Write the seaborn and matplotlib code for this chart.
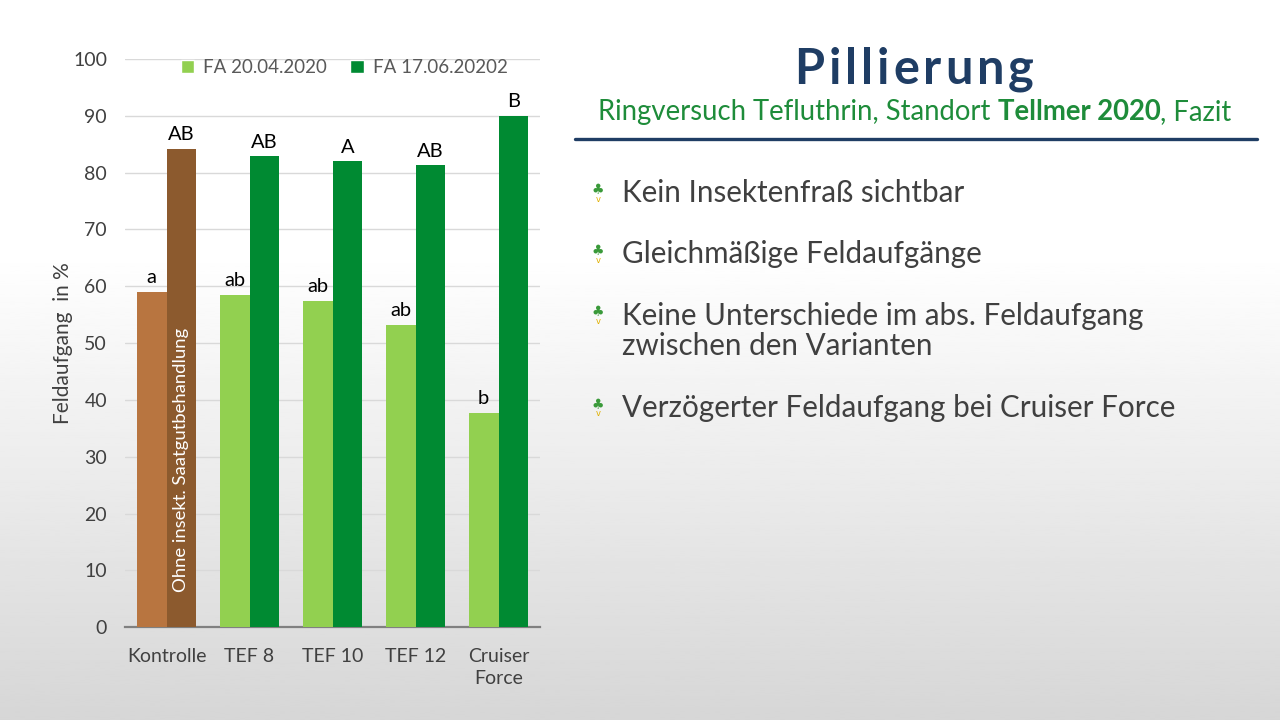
import numpy as np
import pandas as pd
import matplotlib
matplotlib.use("Agg")
import matplotlib.pyplot as plt
import seaborn as sns

categories = ["Kontrolle", "TEF 8", "TEF 10", "TEF 12", "Cruiser\nForce"]
series_names = ["FA 20.04.2020", "FA 17.06.20202"]
fa_april = [59.0, 58.5, 57.4, 53.2, 37.7]
fa_june = [84.2, 82.9, 82.0, 81.3, 90.0]
letters_april = ["a", "ab", "ab", "ab", "b"]
letters_june = ["AB", "AB", "A", "AB", "B"]
bar_note = "Ohne insekt. Saatgutbehandlung"
title = "Pillierung"
subtitle_parts = ["Ringversuch Tefluthrin, Standort ", "Tellmer 2020", ", Fazit"]
bullets = ["Kein Insektenfraß sichtbar",
           "Gleichmäßige Feldaufgänge",
           "Keine Unterschiede im abs. Feldaufgang\nzwischen den Varianten",
           "Verzögerter Feldaufgang bei Cruiser Force"]
y_label = "Feldaufgang  in %"

sns.set_theme(style="white")
plt.rcParams['font.family'] = ['Lato', 'DejaVu Sans']

df = pd.DataFrame({
    "cat": categories * 2,
    "series": [series_names[0]] * 5 + [series_names[1]] * 5,
    "val": fa_april + fa_june,
})

light_green = "#92D050"
dark_green = "#008A32"
brown_light = "#B87540"
brown_dark = "#8C5A2E"

fig = plt.figure(figsize=(12.8, 7.2), dpi=100)

# background gradient
bg = fig.add_axes([0, 0, 1, 1], zorder=-10)
t = np.linspace(0, 1, 256)
vals = np.where(t < 0.35, 1.0, 1.0 - (t - 0.35) / 0.65 * 0.16)
bg.imshow(vals[:, None], aspect="auto", cmap="gray", vmin=0, vmax=1,
          extent=[0, 1, 0, 1])
bg.set_axis_off()

ax = fig.add_axes([0.0977, 0.129, 0.3242, 0.789])
ax.patch.set_alpha(0)
sns.barplot(data=df, x="cat", y="val", hue="series",
            palette=[light_green, dark_green], width=0.72, ax=ax,
            saturation=1, legend=True)

c0, c1 = ax.containers[0], ax.containers[1]
c0.patches[0].set_facecolor(brown_light)
c1.patches[0].set_facecolor(brown_dark)
for p in list(c0.patches) + list(c1.patches):
    p.set_edgecolor("none")
    p.set_zorder(3)

ax.set_ylim(0, 100)
ax.set_xlim(-0.5, 4.5)
ax.set_yticks(range(0, 101, 10))
ax.yaxis.grid(True, color="#D9D9D9", lw=1, zorder=0)
ax.set_axisbelow(True)
for s in ["top", "right", "left"]:
    ax.spines[s].set_visible(False)
ax.spines["bottom"].set_color("#808080")
ax.spines["bottom"].set_linewidth(1.6)
ax.tick_params(axis="both", length=0, labelsize=14, colors="#404040")
ax.tick_params(axis="y", pad=13)
ax.tick_params(axis="x", pad=15)
for lbl in ax.get_xticklabels():
    lbl.set_linespacing(1.35)
ax.set_xlabel("")
ax.set_ylabel(y_label, fontsize=15, color="#404040", labelpad=0)

for p, lab in zip(c0.patches, letters_april):
    ax.text(p.get_x() + p.get_width() / 2, p.get_height() + 1.0, lab,
            ha="center", va="bottom", fontsize=14.5, color="black")
for p, lab in zip(c1.patches, letters_june):
    ax.text(p.get_x() + p.get_width() / 2, p.get_height() + 1.0, lab,
            ha="center", va="bottom", fontsize=14.5, color="black")

p0 = c1.patches[0]
ax.text(p0.get_x() + p0.get_width() / 2, 29.4, bar_note, rotation=90,
        ha="center", va="center", fontsize=13.3, color="white", zorder=5)

leg = ax.legend(loc="center", bbox_to_anchor=(0.528, 0.985), ncol=2,
                frameon=False, fontsize=13.5, handlelength=0.7,
                handleheight=0.7, columnspacing=1.25, handletextpad=0.5)
for txt in leg.get_texts():
    txt.set_color("#595959")

# right side texts
navy = "#1F3D64"
green_txt = "#1E8C3A"
renderer = fig.canvas.get_renderer()

# title with letter spacing
chars = []
cw = []
for ch in title:
    tt = fig.text(0, 0, ch, fontsize=35, fontweight="bold", color=navy,
                  va="center", ha="left")
    chars.append(tt)
    cw.append(tt.get_window_extent(renderer).width)
spacing = 4.0
total = sum(cw) + spacing * (len(cw) - 1)
xpos = 914 - total / 2
for tt, wdt in zip(chars, cw):
    tt.set_position((xpos / 1280, 1 - 70 / 720))
    xpos += wdt + spacing

weights = ["normal", "bold", "normal"]
tmp = []
widths = []
for part, w in zip(subtitle_parts, weights):
    tt = fig.text(0, 0, part, fontsize=19.8, fontweight=w, color=green_txt,
                  va="center")
    widths.append(tt.get_window_extent(renderer).width)
    tmp.append(tt)
total = sum(widths)
xpos = 915 - total / 2
for tt, wdt in zip(tmp, widths):
    tt.set_position((xpos / 1280, 1 - 112 / 720))
    xpos += wdt

fig.add_artist(plt.Line2D([575 / 1280, 1257 / 1280], [1 - 139 / 720] * 2,
                          color=navy, lw=2.4))

bullet_y = [193, 254, 331, 408]
for yb, txt in zip(bullet_y, bullets):
    fig.text(622 / 1280, 1 - yb / 720, txt, ha="left", va="center",
             fontsize=21.3, color="#404040", linespacing=1.12)
    icon_y = yb if "\n" not in txt else yb - 16
    fig.text(598 / 1280, 1 - (icon_y - 3) / 720, "♣", ha="center", va="center",
             fontsize=10, color="#3A9A3A", family=["DejaVu Sans"])
    fig.text(598 / 1280, 1 - (icon_y + 6) / 720, "v", ha="center", va="center",
             fontsize=6, color="#E0B000", family=["DejaVu Sans"])

fig.savefig("out.png", dpi=100)
